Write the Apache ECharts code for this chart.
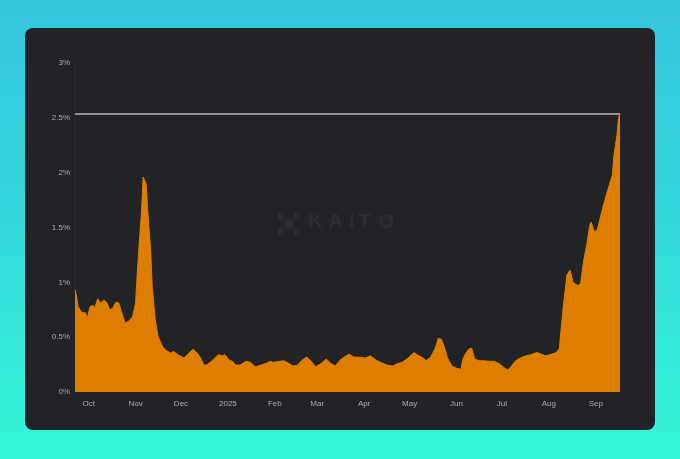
<!DOCTYPE html>
<html>
<head>
<meta charset="utf-8">
<script src="https://cdn.jsdelivr.net/npm/echarts@6/dist/echarts.min.js"></script>
<style>
html,body{margin:0;padding:0;width:680px;height:459px;overflow:hidden;}
body{background:linear-gradient(180deg,#33c4dd 0%,#33d9dc 50%,#33f6d6 100%);}
#panel{position:absolute;left:25px;top:28px;width:630px;height:402px;background:#222327;border-radius:8px;}
#chart{position:absolute;left:0;top:0;width:680px;height:459px;}
</style>
</head>
<body>
<div id="panel"></div>
<div id="chart"></div>
<script>
const startDate = '2024-09-22';
const dayOffsets = [0,1,2,4,7,8,10,12,13,15,17,19,21,23,25,27,29,31,33,35,38,40,41,42,44,45,47,48,50,51,53,55,56,58,60,63,65,68,72,75,78,81,83,85,87,91,93,95,97,99,102,104,106,109,113,116,119,123,126,129,131,135,138,140,144,147,150,153,156,159,162,166,169,172,175,179,181,184,189,192,195,199,202,206,210,213,216,220,224,226,230,232,235,238,240,242,244,246,249,252,255,256,258,260,262,264,267,270,274,277,280,284,286,288,291,295,298,301,305,308,311,315,318,320,321,323,325,327,329,332,334,336,338,340,341,343,345,347,349,351,353,355,356,358,359,360];
const values = [0.93,0.88,0.78,0.73,0.72,0.665,0.78,0.79,0.765,0.85,0.81,0.84,0.815,0.75,0.765,0.82,0.81,0.72,0.63,0.64,0.685,0.81,1.05,1.27,1.66,1.96,1.9,1.66,1.29,0.96,0.66,0.50,0.49,0.41,0.38,0.355,0.37,0.34,0.31,0.35,0.39,0.35,0.31,0.246,0.246,0.29,0.32,0.34,0.33,0.34,0.29,0.28,0.246,0.246,0.28,0.27,0.23,0.246,0.26,0.28,0.27,0.28,0.285,0.27,0.237,0.246,0.29,0.32,0.28,0.23,0.255,0.30,0.26,0.237,0.29,0.33,0.346,0.32,0.316,0.31,0.33,0.29,0.27,0.246,0.237,0.26,0.27,0.31,0.36,0.34,0.31,0.285,0.32,0.40,0.49,0.48,0.41,0.31,0.237,0.216,0.207,0.29,0.35,0.39,0.40,0.30,0.285,0.285,0.28,0.28,0.26,0.216,0.20,0.23,0.285,0.316,0.33,0.34,0.36,0.346,0.33,0.346,0.36,0.40,0.56,0.84,1.07,1.11,1.0,0.97,0.99,1.2,1.34,1.52,1.55,1.46,1.48,1.59,1.70,1.80,1.89,1.98,2.16,2.34,2.5,2.54];
const refLine = 2.54;
const monthNames = ['Jan','Feb','Mar','Apr','May','Jun','Jul','Aug','Sep','Oct','Nov','Dec'];
const watermark = 'KAITO';

const base = new Date(startDate + 'T00:00:00Z').getTime();
const seriesData = dayOffsets.map((d, i) => [base + d * 86400000, values[i]]);

const wmColor = '#2b2d31';
const letterX = [30, 50, 71, 80, 100];
const wmChildren = [
  {type: 'rect', shape: {x: 0, y: 0, width: 6, height: 6}, style: {fill: wmColor}},
  {type: 'rect', shape: {x: 16, y: 0, width: 6, height: 6}, style: {fill: wmColor}},
  {type: 'rect', shape: {x: 0, y: 16, width: 6, height: 6}, style: {fill: wmColor}},
  {type: 'rect', shape: {x: 16, y: 16, width: 6, height: 6}, style: {fill: wmColor}},
  {type: 'rect', shape: {x: 7, y: 7, width: 8, height: 8}, style: {fill: wmColor}}
].concat(watermark.split('').map((ch, i) => ({
  type: 'text', x: letterX[i], y: -1,
  style: {text: ch, fill: wmColor, font: 'bold 21px Liberation Sans, Arial, sans-serif'}
})));

const chart = echarts.init(document.getElementById('chart'), null, {renderer: 'canvas'});
chart.setOption({
  backgroundColor: 'transparent',
  animation: false,
  textStyle: {fontFamily: 'Liberation Sans, Arial, sans-serif'},
  grid: {left: 75, right: 60, top: 63, bottom: 67},
  graphic: [{type: 'group', x: 278, y: 213, silent: true, children: wmChildren}],
  xAxis: {
    type: 'time',
    min: base + dayOffsets[0] * 86400000,
    max: base + dayOffsets[dayOffsets.length - 1] * 86400000,
    splitNumber: 12,
    axisLine: {show: false},
    axisTick: {show: false},
    splitLine: {show: false},
    axisLabel: {
      color: '#a9abb0', fontSize: 8, margin: 8,
      formatter: function (v) {
        const d = new Date(v);
        const m = d.getUTCMonth();
        return m === 0 ? String(d.getUTCFullYear()) : monthNames[m];
      }
    }
  },
  yAxis: {
    type: 'value', min: 0, max: 3, interval: 0.5,
    axisLine: {show: true, lineStyle: {color: '#2c2e33'}},
    axisTick: {show: false},
    splitLine: {show: false},
    axisLabel: {color: '#a9abb0', fontSize: 8, margin: 5, formatter: v => v + '%'}
  },
  series: [{
    type: 'line',
    data: seriesData,
    symbol: 'none',
    lineStyle: {color: '#de7e00', width: 1},
    areaStyle: {color: '#de7e00', opacity: 1},
    markLine: {
      silent: true, symbol: 'none',
      label: {show: false},
      lineStyle: {color: '#b8babd', width: 1.5, type: 'solid'},
      data: [{yAxis: refLine}]
    }
  }]
});
</script>
</body>
</html>
